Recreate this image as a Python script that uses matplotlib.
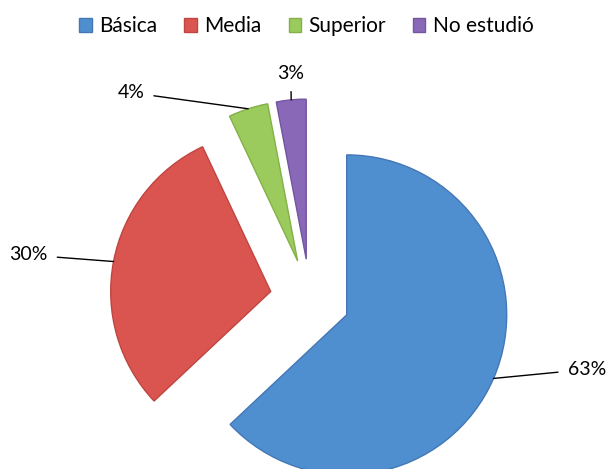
import numpy as np
import matplotlib
matplotlib.use("Agg")
import matplotlib.pyplot as plt

categories = ["Básica", "Media", "Superior", "No estudió"]
values = [63, 30, 4, 3]
labels = ["63%", "30%", "4%", "3%"]
colors = ["#4F8FCF", "#DB5550", "#9BCB5D", "#8A68B8"]
edges = ["#4477B5", "#BF4540", "#84B048", "#7355A0"]

# where each percentage label sits (axes data units, pie radius = 1)
label_pos = [(1.73, -0.44), (-1.76, 0.275), (-1.12, 1.29), (-0.12, 1.41)]

plt.rcParams['font.family'] = ['Lato', 'DejaVu Sans']

fig = plt.figure(figsize=(6.13, 4.69), dpi=100)
ax = fig.add_axes([0, 0, 1, 1])

explode = [0.25] * len(values)
wedges, _ = ax.pie(values, colors=colors, startangle=90, counterclock=False,
                   explode=explode, radius=1.0,
                   wedgeprops=dict(linewidth=1.0))
for w, ec in zip(wedges, edges):
    w.set_edgecolor(ec)

for w, lab, pos in zip(wedges, labels, label_pos):
    ang = np.deg2rad((w.theta1 + w.theta2) / 2)
    cx, cy = w.center
    xy = (cx + w.r * np.cos(ang), cy + w.r * np.sin(ang))
    ax.annotate(lab, xy=xy, xytext=pos, ha="center", va="center", fontsize=14,
                arrowprops=dict(arrowstyle="-", color="black", lw=1.0,
                                shrinkA=5, shrinkB=0))

ax.set_xlim(-310 / 160, (613 - 310) / 160)
ax.set_ylim(-170 / 160, (469 - 170) / 160)
ax.set_aspect("equal")
ax.axis("off")

fig.legend(wedges, categories, loc="upper center", bbox_to_anchor=(0.5, 1.005),
           ncol=4, frameon=False, fontsize=15, handlelength=0.6, handleheight=0.6,
           columnspacing=1.3, handletextpad=0.35)

fig.savefig("out.png", dpi=100)
